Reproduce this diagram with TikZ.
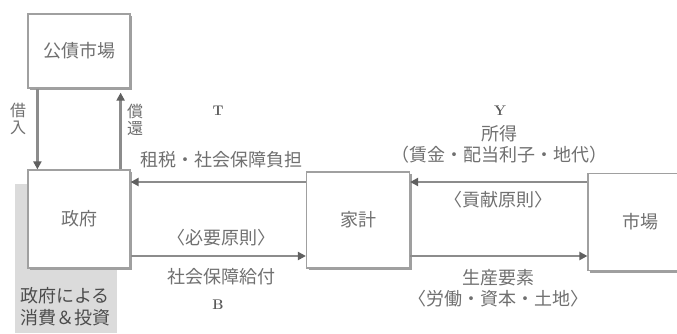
\documentclass[tikz,border=0pt]{standalone}
\usepackage{fontspec}
\newfontfamily\jp{Noto Sans CJK JP}
\usetikzlibrary{arrows.meta,shadows}
\definecolor{txt}{HTML}{707070}
\definecolor{boxline}{HTML}{A0A0A0}
\definecolor{arrline}{HTML}{8C8C8C}
\definecolor{tipcol}{HTML}{606060}
\tikzset{
  box/.style={draw=boxline, line width=1.2pt, fill=white, minimum width=#1,
    text=txt, font=\jp\fontsize{18}{19}\selectfont,
    drop shadow={shadow xshift=2pt, shadow yshift=-2pt, fill=gray!75, opacity=1}},
  lbl/.style={text=txt, font=\jp\fontsize{18}{21}\selectfont, inner sep=0pt, align=center},
  ltr/.style={text=txt!80!black, font=\fontsize{14}{16}\selectfont\bfseries, inner sep=0pt},
  flow/.style={draw=arrline, line width=2.4pt,
    -{Triangle[length=8pt,width=8pt,fill=tipcol,color=tipcol]}},
  gov label/.style={text=black!70, font=\jp\fontsize{18}{22}\selectfont, inner sep=0pt, align=center}
}
\begin{document}
\begin{tikzpicture}[x=1pt,y=-1pt]
\useasboundingbox (0,0) rectangle (677,333);
\fill[white] (0,0) rectangle (677,333);
% gray background of government
\fill[gray!28] (15,184) rectangle (117,333);
\node[gov label] (gl) at (65,307) {政府による\\消費＆投資};

\node[box=102pt, minimum height=74pt] (pm) at (79,51) {公債市場};
\node[box=102pt, minimum height=98pt] (gov) at (79,219) {政府};
\node[box=103pt, minimum height=96pt] (hh) at (358,220) {家計};
\node[box=104pt, minimum height=97pt] (mk) at (640,222) {市場};

\coordinate (ty) at (0,182);
\coordinate (by) at (0,256);

% borrowing / repayment
\draw[flow] ([xshift=10pt]pm.south west) -- ([xshift=10pt]gov.north west);
\draw[flow, shorten >=4pt] ([xshift=-10pt]gov.north east) -- ([xshift=-10pt]pm.south east);
\node[lbl, font=\jp\fontsize{16}{17}\selectfont] (br) at (18,119) {借\\入};
\node[lbl, font=\jp\fontsize{16}{17}\selectfont] (rp) at (135,120) {償\\還};

% horizontal flows
\draw[flow] (hh.west |- ty) -- (gov.east |- ty);
\draw[flow] (gov.east |- by) -- (hh.west |- by);
\draw[flow] (mk.west |- ty) -- (hh.east |- ty);
\draw[flow] (hh.east |- by) -- (mk.west |- by);

% labels
\node[ltr] (T) at (218,111) {T};
\node[ltr] (Y) at (500,111) {Y};
\node[ltr] (B) at (218,305) {B};
\node[lbl] (tax) at (221,160) {租税・社会保障負担};
\node[lbl] (need) at (221,238) {〈必要原則〉};
\node[lbl] (ben) at (221,277) {社会保障給付};
\node[lbl] (inc) at (499,144) {所得\\（賃金・配当利子・地代）};
\node[lbl] (contr) at (498,200) {〈貢献原則〉};
\node[lbl] (fac) at (498,288) {生産要素\\〈労働・資本・土地〉};
\end{tikzpicture}
\end{document}
